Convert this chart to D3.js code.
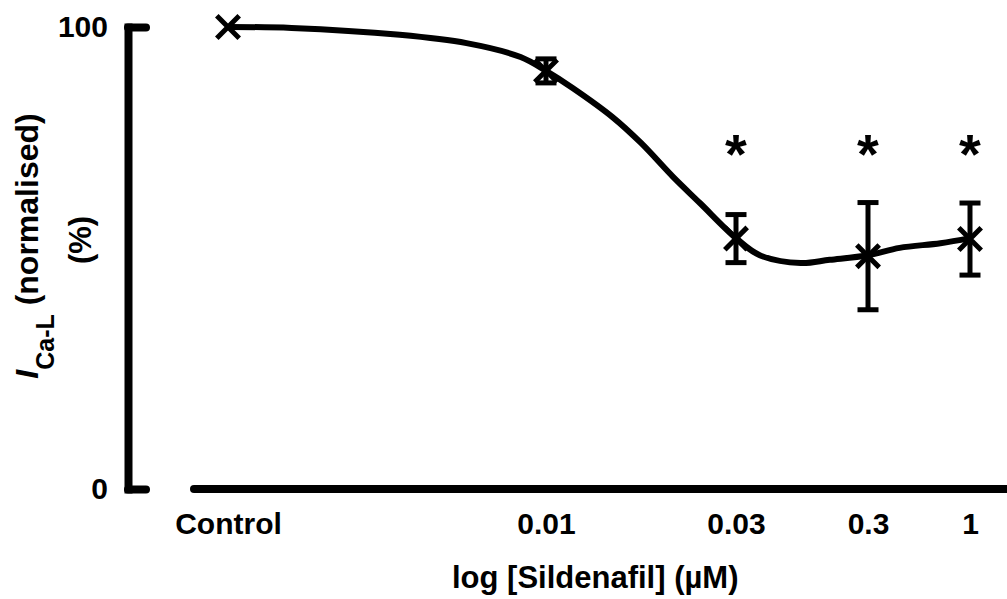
<!DOCTYPE html>
<html>
<head>
<meta charset="utf-8">
<script src="https://cdn.jsdelivr.net/npm/d3@7"></script>
<style>
  html, body { margin: 0; padding: 0; background: #fff; }
  svg { display: block; }
  text { font-family: "Liberation Sans", Arial, sans-serif; font-weight: bold; fill: #000; }
</style>
</head>
<body>
<svg id="chart" width="1007" height="599"></svg>
<script>
// ---- data ----
const categories = ["Control", "0.01", "0.03", "0.3", "1"];
const means      = [100, 90.5, 54.2, 50.4, 54.1];
const sems       = [0, 2.6, 5.2, 11.6, 7.8];
const significant = [false, false, true, true, true];
const yTicks = [0, 100];
// fitted concentration-response curve (x in category-index units, y in %)
const fitX = [0, 0.2, 0.54, 0.75, 0.92, 1, 1.14, 1.35, 1.5, 1.67, 1.81, 2, 2.18, 2.49, 2.71, 3, 3.31, 3.71, 4];
const fitY = [100, 99.8, 98.3, 96.5, 93.5, 90.5, 86.8, 80.5, 74.9, 67.5, 61.9, 54.3, 50.6, 48.9, 49.6, 50.6, 52.2, 53.2, 54.3];
const xTitle = "log [Sildenafil] (\u00B5M)";

// ---- layout ----
const svg = d3.select("#chart");
const idx = categories.map((d, i) => i);
const x = d3.scaleLinear().domain(idx).range([228, 546, 736, 868, 970]);
const y = d3.scaleLinear().domain([0, 100]).range([489, 27]);

// y axis
const yAxis = svg.append("g").attr("transform", "translate(128,0)")
  .call(d3.axisLeft(y).tickValues(yTicks).tickSize(-18).tickSizeOuter(0).tickPadding(20));
yAxis.select(".domain").attr("stroke", "#000").attr("stroke-width", 8).attr("stroke-linecap", "square");
yAxis.selectAll(".tick line").attr("stroke", "#000").attr("stroke-width", 8).attr("stroke-linecap", "round");
yAxis.selectAll(".tick text").attr("font-size", 30).attr("font-family", null).attr("font-weight", "bold");

// x axis (line separate from the y axis)
svg.append("line").attr("x1", 194).attr("x2", 1012).attr("y1", y(0)).attr("y2", y(0))
  .attr("stroke", "#000").attr("stroke-width", 8).attr("stroke-linecap", "round");
const xAxis = svg.append("g").attr("transform", `translate(0,${y(0)})`)
  .call(d3.axisBottom(x).tickValues(idx).tickFormat(i => categories[i]).tickSize(0).tickPadding(24));
xAxis.select(".domain").remove();
xAxis.selectAll(".tick text").attr("font-size", 30).attr("font-family", null).attr("font-weight", "bold");

// axis titles
svg.append("text").attr("x", 452).attr("y", 588).attr("text-anchor", "start")
  .attr("font-size", 31).text(xTitle);

const yt = svg.append("text").attr("transform", "translate(38,246) rotate(-90)")
  .attr("text-anchor", "middle").attr("font-size", 32);
yt.append("tspan").attr("font-style", "italic").text("I");
yt.append("tspan").attr("font-size", 25).attr("dy", 16).text("Ca-L");
yt.append("tspan").attr("dy", -16).text(" (normalised)");
svg.append("text").attr("transform", "translate(91,240) rotate(-90)")
  .attr("text-anchor", "middle").attr("font-size", 31).text("(%)");

// fitted curve
const fit = fitX.map((d, i) => [d, fitY[i]]);
svg.append("path").datum(fit)
  .attr("d", d3.line().x(d => x(d[0])).y(d => y(d[1])).curve(d3.curveCatmullRom))
  .attr("fill", "none").attr("stroke", "#000").attr("stroke-width", 6);

// error bars
const eb = svg.append("g").attr("stroke", "#000").attr("stroke-width", 5);
idx.filter(i => sems[i] > 0).forEach(i => {
  const cx = x(i), top = y(means[i] + sems[i]), bot = y(means[i] - sems[i]);
  eb.append("line").attr("x1", cx).attr("x2", cx).attr("y1", top).attr("y2", bot);
  eb.append("line").attr("x1", cx - 10.5).attr("x2", cx + 10.5).attr("y1", top).attr("y2", top);
  eb.append("line").attr("x1", cx - 10.5).attr("x2", cx + 10.5).attr("y1", bot).attr("y2", bot);
});

// markers
const sym = d3.symbol().type(d3.symbolTimes).size(330);
svg.append("g").selectAll("path").data(idx).join("path")
  .attr("transform", i => `translate(${x(i)},${y(means[i])})`)
  .attr("d", sym).attr("fill", "none").attr("stroke", "#000").attr("stroke-width", 5);

// significance asterisks
svg.append("g").selectAll("text").data(idx.filter(i => significant[i])).join("text")
  .attr("x", i => x(i)).attr("y", 173).attr("text-anchor", "middle")
  .attr("font-size", 56).text("*");
</script>
</body>
</html>
